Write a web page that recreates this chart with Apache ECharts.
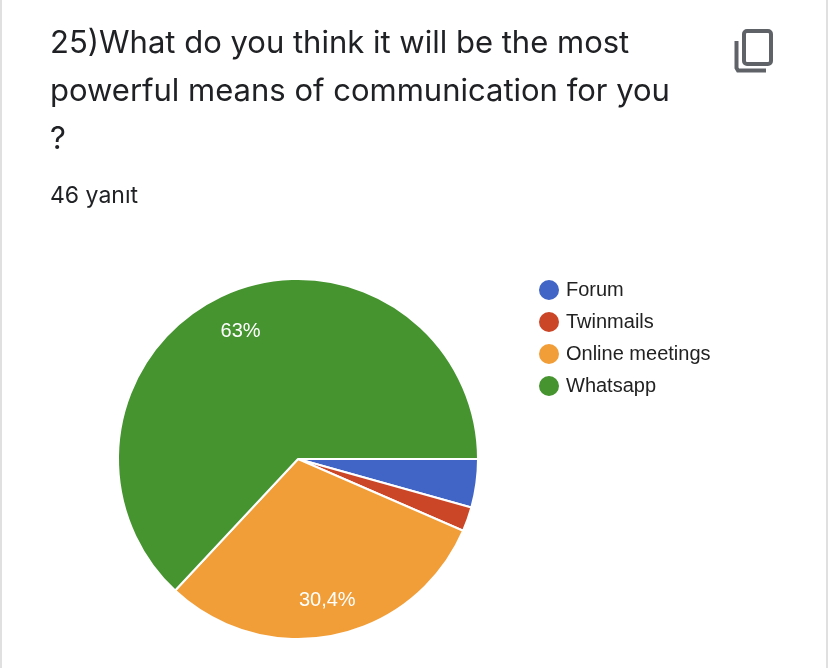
<!DOCTYPE html>
<html lang="en">
<head>
    <meta charset="UTF-8">
    <title>25)What do you think it will be the most powerful means of communication for you ?</title>
    <script type="text/javascript" src="https://cdn.jsdelivr.net/npm/echarts@6/dist/echarts.min.js"></script>
    <style>
        html, body { margin: 0; padding: 0; background: #fff; }
    </style>
</head>
<body>
<div id="pie" style="width: 828px;height: 668px"></div>
<script type="text/javascript">
    var titleText = "25)What do you think it will be the most\npowerful means of communication for you\n?"
    var subtitleText = "46 yanıt"
    var categories = ["Forum", "Twinmails", "Online meetings", "Whatsapp"]
    var answers = [2, 1, 14, 29]
    var colors = ["#4065c6", "#cb4627", "#f29e38", "#45942f"]

    var total = 0
    for (var i = 0; i < answers.length; i++) {
        total += answers[i]
    }
    var pieData = []
    for (var i = 0; i < categories.length; i++) {
        pieData.push({ name: categories[i], value: answers[i] })
    }

    var myChart = echarts.init(document.getElementById('pie'));
    var option = {
        animation: false,
        backgroundColor: "#fff",
        color: colors,
        title: {
            text: titleText,
            subtext: subtitleText,
            left: 50,
            top: 20,
            padding: 0,
            itemGap: 17,
            textStyle: {
                fontFamily: "Inter",
                fontWeight: "normal",
                fontSize: 31,
                lineHeight: 48,
                color: "#202124"
            },
            subtextStyle: {
                fontFamily: "Inter",
                fontSize: 23,
                lineHeight: 30,
                color: "#202124"
            }
        },
        legend: {
            orient: "vertical",
            left: 537,
            top: 278,
            padding: 0,
            icon: "circle",
            itemWidth: 22,
            itemHeight: 22,
            itemGap: 8,
            textStyle: {
                fontFamily: "Liberation Sans",
                fontSize: 20,
                lineHeight: 20,
                color: "#222222",
                padding: [0, 0, 0, 1]
            }
        },
        series: [
            {
                type: "pie",
                center: [298, 459],
                radius: 180,
                startAngle: 0,
                data: pieData,
                itemStyle: {
                    borderColor: "#fff",
                    borderWidth: 2
                },
                label: { show: false },
                emphasis: { disabled: true }
            },
            // see-through ring, only there to hold the labels out near the rim
            {
                type: "pie",
                center: [298, 459],
                radius: [102, 180],
                startAngle: 0,
                silent: true,
                data: pieData,
                itemStyle: { color: "transparent" },
                label: {
                    show: true,
                    position: "inside",
                    fontFamily: "Liberation Sans",
                    fontSize: 20,
                    color: "#fff",
                    // slices under 5% get no label
                    formatter: function (p) {
                        var pct = p.value / total * 100
                        if (pct < 5) {
                            return ""
                        }
                        return String(Math.round(pct * 10) / 10).replace(".", ",") + "%"
                    }
                },
                labelLayout: function (p) {
                    return p.dataIndex === 3 ? { dy: 5 } : {}
                },
                emphasis: { disabled: true }
            }
        ],
        graphic: [
            { type: "rect", shape: { x: 0, y: 0, width: 2, height: 668 }, style: { fill: "#e0e0e0" } },
            { type: "rect", shape: { x: 826, y: 0, width: 2, height: 668 }, style: { fill: "#e0e0e0" } },
            // copy icon
            {
                type: "rect",
                shape: { x: 744, y: 31, width: 27, height: 33, r: 3 },
                style: { fill: "none", stroke: "#5f6368", lineWidth: 4 }
            },
            {
                type: "polyline",
                shape: { points: [[736.5, 41], [736.5, 68], [738, 70.5], [766, 70.5]] },
                style: { fill: "none", stroke: "#5f6368", lineWidth: 4 }
            }
        ]
    };
    myChart.setOption(option);
</script>
</body>
</html>
